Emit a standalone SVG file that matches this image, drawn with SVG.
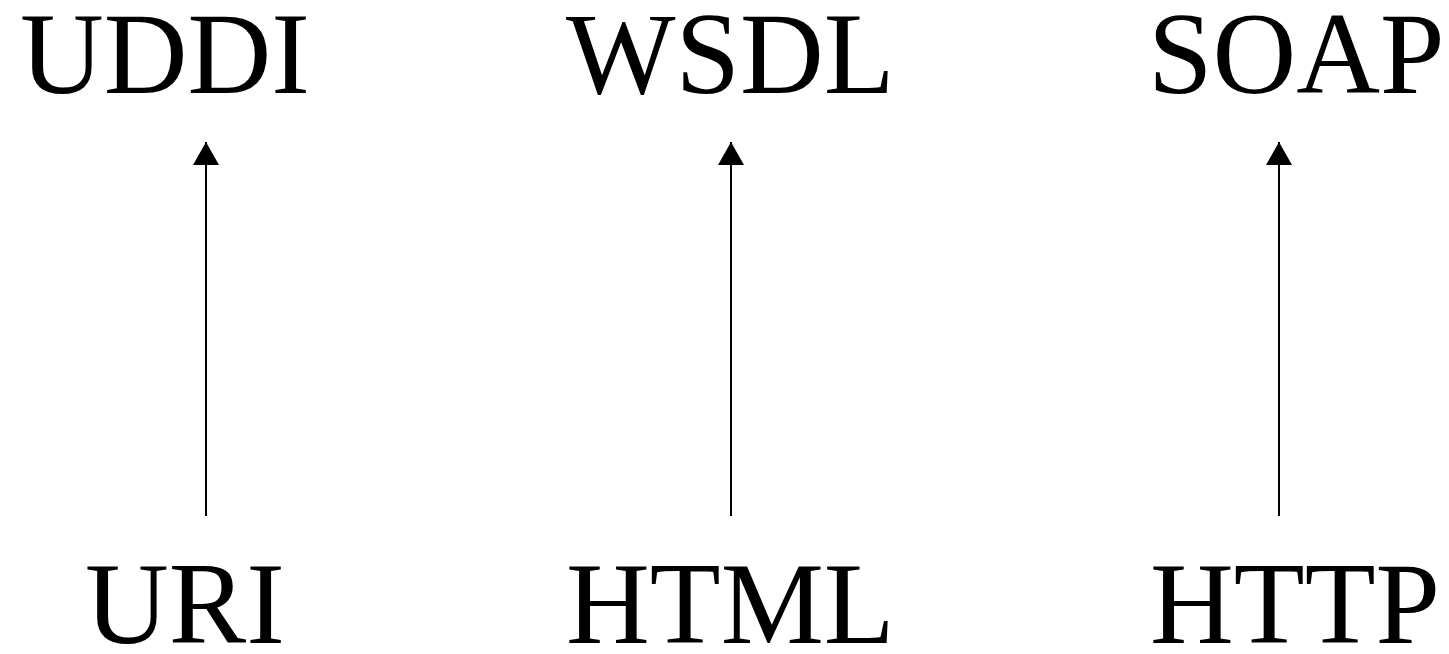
<svg xmlns="http://www.w3.org/2000/svg" width="1449" height="654" viewBox="0 0 1449 654">
<style>
.t{font-family:"Liberation Serif","Times New Roman",serif;font-size:116px;fill:#000}
.c{stroke:#000;stroke-width:2;fill:none}
</style>
<defs>
<marker id="ah" viewBox="0 0 23 26" refX="23" refY="13" markerWidth="23" markerHeight="26" markerUnits="userSpaceOnUse" orient="auto">
<path d="M0,0 L23,13 L0,26 Z" fill="#000"/>
</marker>
</defs>
<rect width="1449" height="654" fill="#fff"/>
<g id="uddi"><text class="t" x="20" y="93">UDDI</text></g>
<g id="wsdl"><text class="t" x="566" y="93">WSDL</text></g>
<g id="soap"><text class="t" x="1148" y="93">SOAP</text></g>
<g id="uri"><text class="t" x="85" y="643">URI</text></g>
<g id="html"><text class="t" x="566" y="643">HTML</text></g>
<g id="http"><text class="t" x="1150" y="643">HTTP</text></g>
<g id="connectors">
<line class="c" x1="206" y1="516" x2="206" y2="142" marker-end="url(#ah)"/>
<line class="c" x1="731" y1="516" x2="731" y2="142" marker-end="url(#ah)"/>
<line class="c" x1="1279" y1="516" x2="1279" y2="142" marker-end="url(#ah)"/>
</g>
</svg>
